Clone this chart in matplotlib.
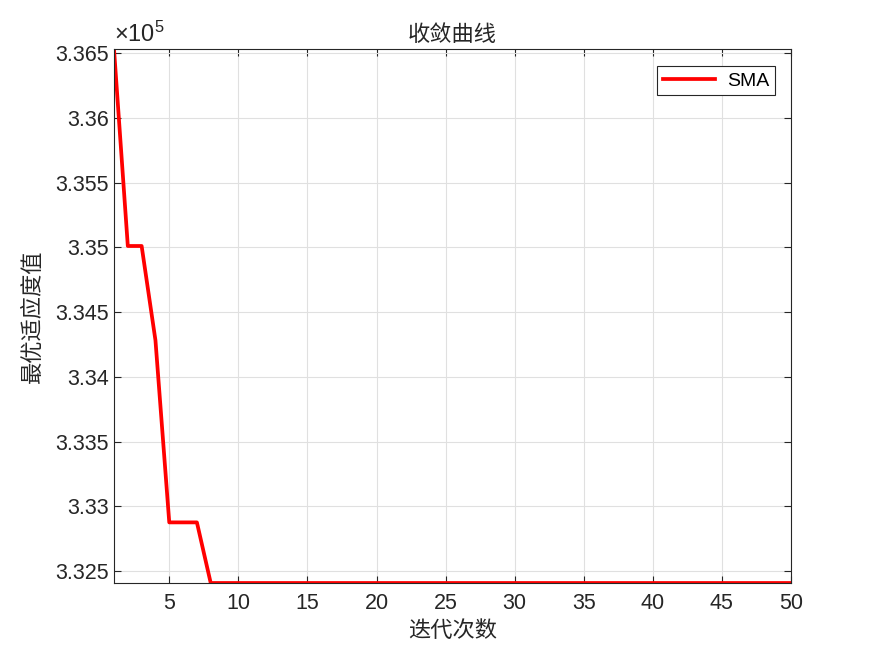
import numpy as np
import matplotlib
matplotlib.use("Agg")
import matplotlib.pyplot as plt

iters = np.arange(1, 51)
best_head = [336531, 335010, 335010, 334282, 332876, 332876, 332876]
best_tail_value = 332408
best = np.array(best_head + [best_tail_value] * (len(iters) - len(best_head)))

plt.rcParams['font.family'] = ['Liberation Sans', 'DejaVu Sans']
plt.rcParams['mathtext.fontset'] = 'custom'
plt.rcParams['mathtext.rm'] = 'Liberation Sans'
plt.rcParams['mathtext.it'] = 'Liberation Sans'
cjk = ['Noto Sans CJK SC', 'DejaVu Sans']

fig = plt.figure(figsize=(8.75, 6.56), dpi=100)
ax = fig.add_axes([114 / 875, 1 - 583 / 656, (791 - 114) / 875, (583 - 49) / 656])

ax.plot(iters, best, color='red', linewidth=2.7, label='SMA')
ax.set_xlim(1, 50)
ax.set_ylim(best.min(), best.max())
ax.set_xticks([5, 10, 15, 20, 25, 30, 35, 40, 45, 50])
yt = np.arange(332500, 336501, 500)
ax.set_yticks(yt)
ax.set_yticklabels([f"{v / 1e5:g}" for v in yt])
ax.text(0, 1.004, r'$\times10^5$', transform=ax.transAxes, fontsize=17,
        ha='left', va='bottom', color='#262626')

ax.grid(True, color='#e0e0e0', linewidth=0.8)
ax.tick_params(direction='in', top=True, right=True, labelsize=15.5,
               colors='#262626', length=5)
ax.tick_params(axis='x', pad=7)
for s in ax.spines.values():
    s.set_color('#262626')
    s.set_linewidth(0.8)

ax.set_title('收敛曲线', family=cjk, fontsize=16, color='#262626', pad=6)
ax.set_xlabel('迭代次数', family=cjk, fontsize=16, color='#262626', labelpad=4)
ax.set_ylabel('最优适应度值', family=cjk, fontsize=16, color='#262626', labelpad=8)

leg = ax.legend(loc='upper right', fontsize=14, fancybox=False, framealpha=1,
                edgecolor='#262626', handlelength=2.7, borderpad=0.3,
                handletextpad=0.6, borderaxespad=0,
                bbox_to_anchor=(0.9764, 0.968))
leg.get_frame().set_linewidth(0.8)

fig.savefig('out.png', dpi=100)
